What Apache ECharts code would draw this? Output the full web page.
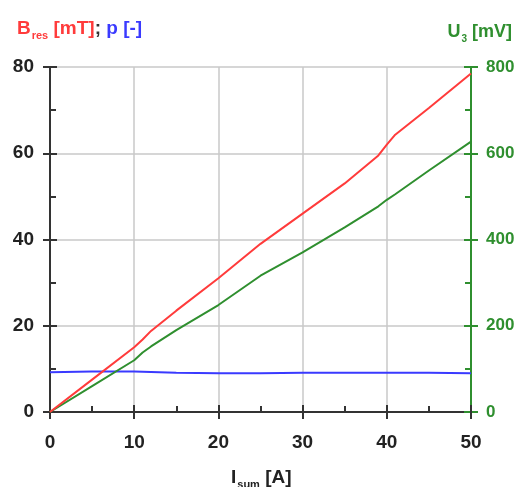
<!DOCTYPE html>
<html>
<head>
<meta charset="utf-8">
<script src="https://cdn.jsdelivr.net/npm/echarts@6/dist/echarts.min.js"></script>
<style>
  html, body { margin: 0; padding: 0; background: #fff; }
  #chart { width: 524px; height: 487px; }
</style>
</head>
<body>
<div id="chart"></div>
<script>
// current I_sum [A]
const currentB = [0, 5, 10, 11, 12, 15, 20, 25, 30, 35, 39, 40, 41, 45, 50];
const bRes = [0, 7.5, 15, 16.8, 18.8, 23.5, 31, 39, 46, 53, 59.5, 62, 64.3, 70.5, 78.5];

const currentU = [0, 5, 10, 11, 12, 15, 20, 25, 30, 35, 39, 40, 41, 45, 50];
const u3 = [0, 60, 120, 138, 152, 190, 248, 316, 370, 428, 477, 492, 505, 560, 627];

const currentP = [0, 5, 10, 15, 20, 25, 30, 35, 40, 45, 50];
const pVal = [9.2, 9.4, 9.4, 9.1, 9.0, 9.0, 9.1, 9.1, 9.1, 9.1, 9.0];

const RED = '#ff3b3b';
const GREEN = '#2f8f2f';
const BLUE = '#3a3aff';
const AXIS = '#333';
const FONT = '"Liberation Sans", Arial, sans-serif';

const pairs = function (xs, ys) {
    return xs.map((x, i) => [x, ys[i]]);
};

const chart = echarts.init(document.getElementById('chart'));

const overlayAxis = function (extra, color) {
    return Object.assign({
        type: 'value',
        axisLine: { show: false },
        axisLabel: { show: false },
        splitLine: { show: false },
        axisTick: { show: true, inside: true, length: 7, lineStyle: { color: color, width: 2 } },
        minorTick: { show: true, splitNumber: 2, length: 6, lineStyle: { color: color, width: 2 } }
    }, extra);
};

chart.setOption({
    animation: false,
    textStyle: { fontFamily: FONT },
    grid: { left: 50, right: 53, top: 67, bottom: 75 },
    title: [
        {
            text: '{r|B}{rs|res}{r| [mT]}{k|;}{b| p [-]}',
            left: 12, top: 14,
            textStyle: {
                rich: {
                    r: { color: RED, fontSize: 19, fontWeight: 'bold', fontFamily: FONT, verticalAlign: 'bottom' },
                    rs: { color: RED, fontSize: 11, fontWeight: 'bold', fontFamily: FONT, verticalAlign: 'bottom', padding: [0, 0, -3, 1] },
                    k: { color: '#333', fontSize: 19, fontWeight: 'bold', fontFamily: FONT, verticalAlign: 'bottom' },
                    b: { color: BLUE, fontSize: 19, fontWeight: 'bold', fontFamily: FONT, verticalAlign: 'bottom' }
                }
            }
        },
        {
            text: '{g|U}{gs|3}{g| [mV]}',
            right: 7, top: 18,
            textStyle: {
                rich: {
                    g: { color: GREEN, fontSize: 18, fontWeight: 'bold', fontFamily: FONT, verticalAlign: 'bottom' },
                    gs: { color: GREEN, fontSize: 10, fontWeight: 'bold', fontFamily: FONT, verticalAlign: 'bottom', padding: [0, 0, -3, 1] }
                }
            }
        },
        {
            text: '{a|I}{as|sum}{a| [A]}',
            left: 226, top: 463,
            textStyle: {
                rich: {
                    a: { color: '#222', fontSize: 19, fontWeight: 'bold', fontFamily: FONT, verticalAlign: 'bottom' },
                    as: { color: '#222', fontSize: 11, fontWeight: 'bold', fontFamily: FONT, verticalAlign: 'bottom', padding: [0, 0, -3, 1] }
                }
            }
        }
    ],
    xAxis: [
        {
            type: 'value', min: 0, max: 50, interval: 10,
            axisLine: { lineStyle: { color: AXIS, width: 2 } },
            axisTick: { show: true, inside: false, length: 7, lineStyle: { color: AXIS, width: 2 } },
            axisLabel: { color: '#222', fontSize: 19, fontWeight: 'bold', margin: 21 },
            splitLine: { show: true, lineStyle: { color: '#c8c8c8', width: 1.5 } }
        },
        overlayAxis({ min: 0, max: 50, interval: 10, position: 'bottom' }, AXIS)
    ],
    yAxis: [
        {
            type: 'value', min: 0, max: 80, interval: 20, position: 'left',
            axisLine: { show: true, lineStyle: { color: AXIS, width: 2 } },
            axisTick: { show: true, inside: false, length: 7, lineStyle: { color: AXIS, width: 2 } },
            axisLabel: { color: '#222', fontSize: 19, fontWeight: 'bold', margin: 16 },
            splitLine: { show: true, lineStyle: { color: '#c8c8c8', width: 1.5 } }
        },
        overlayAxis({ min: 0, max: 80, interval: 20, position: 'left' }, AXIS),
        {
            type: 'value', min: 0, max: 800, interval: 200, position: 'right',
            axisLine: { show: true, lineStyle: { color: GREEN, width: 2 } },
            axisTick: { show: true, inside: false, length: 7, lineStyle: { color: GREEN, width: 2 } },
            axisLabel: { color: GREEN, fontSize: 17, fontWeight: 'bold', margin: 15 },
            splitLine: { show: false }
        },
        overlayAxis({ min: 0, max: 800, interval: 200, position: 'right' }, GREEN)
    ],
    series: [
        {
            name: 'p', type: 'line', xAxisIndex: 0, yAxisIndex: 0,
            data: pairs(currentP, pVal), showSymbol: false,
            lineStyle: { color: BLUE, width: 2 }, z: 3
        },
        {
            name: 'U3', type: 'line', xAxisIndex: 0, yAxisIndex: 2,
            data: pairs(currentU, u3), showSymbol: false,
            lineStyle: { color: GREEN, width: 2 }, z: 4
        },
        {
            name: 'Bres', type: 'line', xAxisIndex: 0, yAxisIndex: 0,
            data: pairs(currentB, bRes), showSymbol: false,
            lineStyle: { color: RED, width: 2 }, z: 5
        }
    ]
});
</script>
</body>
</html>
